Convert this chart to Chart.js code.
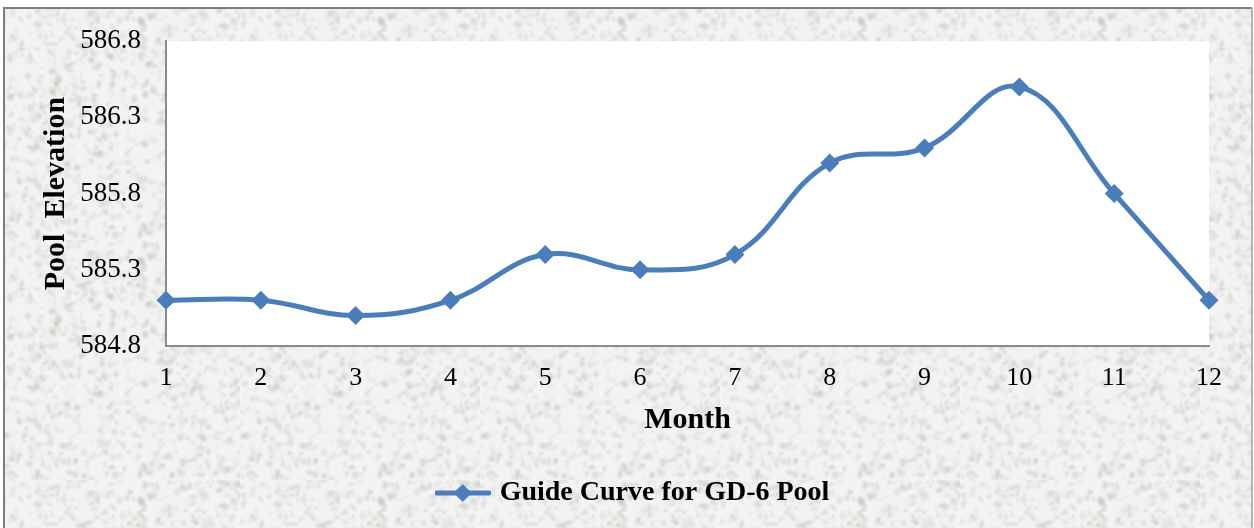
<!DOCTYPE html>
<html>
<head>
<meta charset="utf-8">
<title>Guide Curve for GD-6 Pool</title>
<script src="https://cdn.jsdelivr.net/npm/chart.js@4.4.1/dist/chart.umd.min.js"></script>
<style>
  html, body { margin: 0; padding: 0; background: #fff; }
  #wrap { width: 1254px; height: 528px; }
</style>
</head>
<body>
<div id="wrap"><canvas id="poolChart" width="1254" height="528"></canvas></div>
<script>
const months = ['1', '2', '3', '4', '5', '6', '7', '8', '9', '10', '11', '12'];
const poolElevation = [585.1, 585.1, 585.0, 585.1, 585.4, 585.3, 585.4, 586.0, 586.1, 586.5, 585.8, 585.1];
const yTicks = [584.8, 585.3, 585.8, 586.3, 586.8];
const seriesName = 'Guide Curve for GD-6 Pool';

const lineBlue = '#4a7ebb';
const axisGray = '#8a8a8a';
const serif = "'Liberation Serif', 'Times New Roman', serif";

// speckled paper pattern for the frame background
function makeGrain() {
    const c = document.createElement('canvas');
    c.width = 240;
    c.height = 240;
    const g = c.getContext('2d');
    g.fillStyle = '#f3f3f1';
    g.fillRect(0, 0, c.width, c.height);
    let seed = 20240611;
    const next = () => {
        seed = (seed * 1103515245 + 12345) & 0x7fffffff;
        return seed / 0x7fffffff;
    };
    g.filter = 'blur(1.2px)';
    for (let i = 0; i < 1300; i++) {
        const x = next() * c.width;
        const y = next() * c.height;
        const shade = 195 + Math.floor(next() * 35);
        g.fillStyle = `rgba(${shade},${shade},${shade - 2},0.55)`;
        g.beginPath();
        g.ellipse(x, y, 1 + next() * 3.5, 0.8 + next() * 2, next() * Math.PI, 0, Math.PI * 2);
        g.fill();
    }
    return c;
}

// legend marker: short line with a diamond in the middle
function makeLegendMarker() {
    const c = document.createElement('canvas');
    c.width = 56;
    c.height = 22;
    const g = c.getContext('2d');
    g.strokeStyle = lineBlue;
    g.lineWidth = 5;
    g.lineCap = 'round';
    g.beginPath();
    g.moveTo(2, 11);
    g.lineTo(54, 11);
    g.stroke();
    g.fillStyle = lineBlue;
    g.beginPath();
    g.moveTo(28, 2);
    g.lineTo(37, 11);
    g.lineTo(28, 20);
    g.lineTo(19, 11);
    g.closePath();
    g.fill();
    return c;
}

const grain = makeGrain();

const paperBackground = {
    id: 'paperBackground',
    beforeDraw(chart) {
        const { ctx, width, height, chartArea } = chart;
        ctx.save();
        ctx.fillStyle = '#ffffff';
        ctx.fillRect(0, 0, width, height);
        ctx.fillStyle = ctx.createPattern(grain, 'repeat');
        ctx.fillRect(5, 9, width - 7, height - 9);
        ctx.fillStyle = '#ffffff';
        ctx.fillRect(chartArea.left, chartArea.top, chartArea.right - chartArea.left, chartArea.bottom - chartArea.top);
        // outer frame
        ctx.lineWidth = 2;
        ctx.strokeStyle = '#7d7d7d';
        ctx.beginPath();
        ctx.moveTo(4, height);
        ctx.lineTo(4, 8);
        ctx.lineTo(width - 2, 8);
        ctx.stroke();
        ctx.strokeStyle = '#b4b4b4';
        ctx.beginPath();
        ctx.moveTo(width - 2, 8);
        ctx.lineTo(width - 2, height);
        ctx.stroke();
        ctx.restore();
    }
};

// move the legend so it sits under the middle of the page frame
const legendShift = {
    id: 'legendShift',
    afterLayout(chart) {
        const lg = chart.legend;
        if (lg) {
            lg.left += 30;
            lg.right += 30;
        }
    }
};

const ctx = document.getElementById('poolChart').getContext('2d');
const poolChart = new Chart(ctx, {
    type: 'line',
    data: {
        labels: months,
        datasets: [{
            label: seriesName,
            data: poolElevation,
            borderColor: lineBlue,
            backgroundColor: lineBlue,
            borderWidth: 5,
            pointStyle: 'rectRot',
            pointRadius: 9.5,
            pointHoverRadius: 9.5,
            pointBorderWidth: 0,
            pointBackgroundColor: lineBlue,
            tension: 0.4,
            clip: false,
            fill: false
        }]
    },
    options: {
        responsive: false,
        animation: false,
        devicePixelRatio: 1,
        layout: {
            padding: { left: 0, right: 45, top: 38, bottom: 11 }
        },
        scales: {
            x: {
                type: 'category',
                offset: false,
                grid: { display: false, drawTicks: false },
                border: { display: true, color: axisGray, width: 2 },
                ticks: {
                    color: '#000',
                    font: { family: serif, size: 26 },
                    padding: 17,
                    maxRotation: 0,
                    autoSkip: false
                },
                title: {
                    display: true,
                    text: 'Month',
                    color: '#000',
                    font: { family: serif, size: 30, weight: 'bold' },
                    padding: { top: 31, bottom: 31 }
                },
                afterFit(scale) {
                    scale.height = 123;
                }
            },
            y: {
                min: 584.8,
                max: 586.8,
                grid: { display: false, drawTicks: false },
                border: { display: true, color: axisGray, width: 2 },
                afterBuildTicks(scale) {
                    scale.ticks = yTicks.map(v => ({ value: v }));
                },
                ticks: {
                    color: '#000',
                    font: { family: serif, size: 27 },
                    padding: 25,
                    callback: v => Number(v).toFixed(1)
                },
                title: {
                    display: true,
                    text: 'Pool  Elevation',
                    color: '#000',
                    font: { family: serif, size: 30, weight: 'bold' },
                    padding: { top: 38, bottom: 38 }
                },
                afterFit(scale) {
                    scale.width = 166;
                }
            }
        },
        plugins: {
            legend: {
                position: 'bottom',
                labels: {
                    usePointStyle: true,
                    pointStyle: makeLegendMarker(),
                    pointStyleWidth: 46,
                    color: '#000',
                    padding: 10,
                    font: { family: serif, size: 28, weight: 'bold' }
                }
            },
            tooltip: { enabled: false }
        }
    },
    plugins: [paperBackground, legendShift]
});
</script>
</body>
</html>
